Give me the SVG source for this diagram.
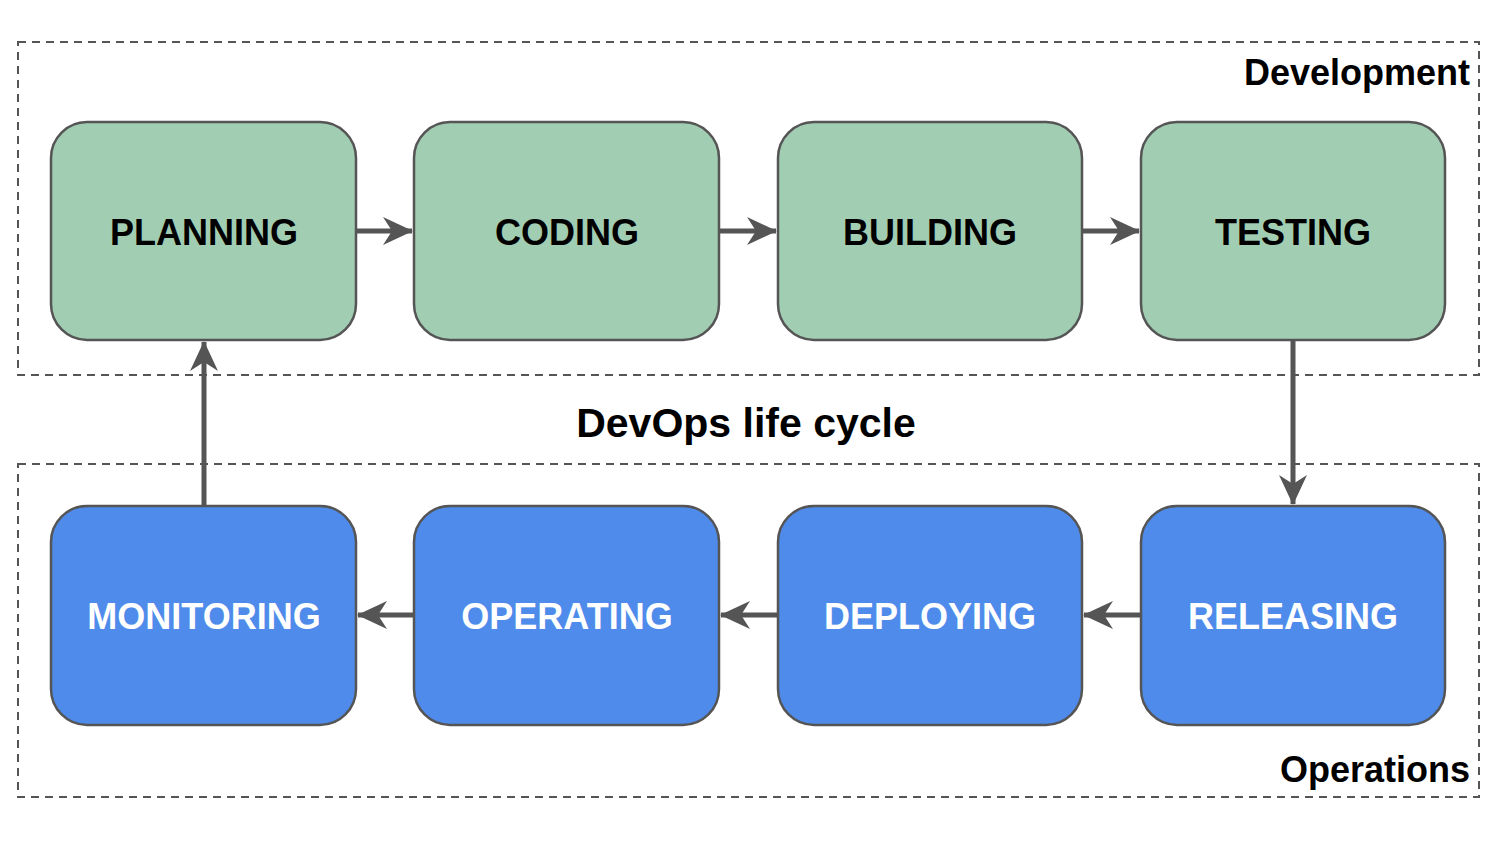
<svg xmlns="http://www.w3.org/2000/svg" width="1500" height="844" viewBox="0 0 1500 844">
<style>
.grp{fill:none;stroke:#555;stroke-width:2;stroke-dasharray:8 6}
.g{fill:#A1CDB3;stroke:#555;stroke-width:2.5}
.b{fill:#4E8BEB;stroke:#555;stroke-width:2.5}
.t{font-family:"Liberation Sans",Arial,sans-serif;font-weight:bold;font-size:36px;text-anchor:middle}
.lbl{font-family:"Liberation Sans",Arial,sans-serif;font-weight:bold;font-size:36px}
.c{stroke:#555;stroke-width:5;fill:none}
</style>
<defs>
<marker id="ah" viewBox="0 0 30 28" refX="29" refY="14" markerWidth="30" markerHeight="28" markerUnits="userSpaceOnUse" orient="auto">
<path d="M0,0 L30,14 L0,28 L9,14 Z" fill="#555"/>
</marker>
</defs>
<rect class="grp" x="18" y="42" width="1461" height="333"/>
<rect class="grp" x="18" y="464" width="1461" height="333"/>
<text class="lbl" x="1470" y="85" text-anchor="end">Development</text>
<text class="lbl" x="1470" y="782" text-anchor="end">Operations</text>
<text class="lbl" x="746" y="437" text-anchor="middle" style="font-size:41px">DevOps life cycle</text>
<g id="connectors">
<path class="c" d="M356,231 L412,231" marker-end="url(#ah)"/>
<path class="c" d="M719,231 L776,231" marker-end="url(#ah)"/>
<path class="c" d="M1082,231 L1139,231" marker-end="url(#ah)"/>
<path class="c" d="M1293,340 L1293,504" marker-end="url(#ah)"/>
<path class="c" d="M1141,615 L1084,615" marker-end="url(#ah)"/>
<path class="c" d="M778,615 L721,615" marker-end="url(#ah)"/>
<path class="c" d="M414,615 L358,615" marker-end="url(#ah)"/>
<path class="c" d="M204,506 L204,342" marker-end="url(#ah)"/>
</g>
<g id="planning"><rect class="g" x="51" y="122" width="305" height="218" rx="36"/><text class="t" x="204" y="245">PLANNING</text></g>
<g id="coding"><rect class="g" x="414" y="122" width="305" height="218" rx="36"/><text class="t" x="567" y="245">CODING</text></g>
<g id="building"><rect class="g" x="778" y="122" width="304" height="218" rx="36"/><text class="t" x="930" y="245">BUILDING</text></g>
<g id="testing"><rect class="g" x="1141" y="122" width="304" height="218" rx="36"/><text class="t" x="1293" y="245">TESTING</text></g>
<g id="releasing"><rect class="b" x="1141" y="506" width="304" height="219" rx="36"/><text class="t" x="1293" y="629" fill="#fff">RELEASING</text></g>
<g id="deploying"><rect class="b" x="778" y="506" width="304" height="219" rx="36"/><text class="t" x="930" y="629" fill="#fff">DEPLOYING</text></g>
<g id="operating"><rect class="b" x="414" y="506" width="305" height="219" rx="36"/><text class="t" x="567" y="629" fill="#fff">OPERATING</text></g>
<g id="monitoring"><rect class="b" x="51" y="506" width="305" height="219" rx="36"/><text class="t" x="204" y="629" fill="#fff">MONITORING</text></g>
</svg>
